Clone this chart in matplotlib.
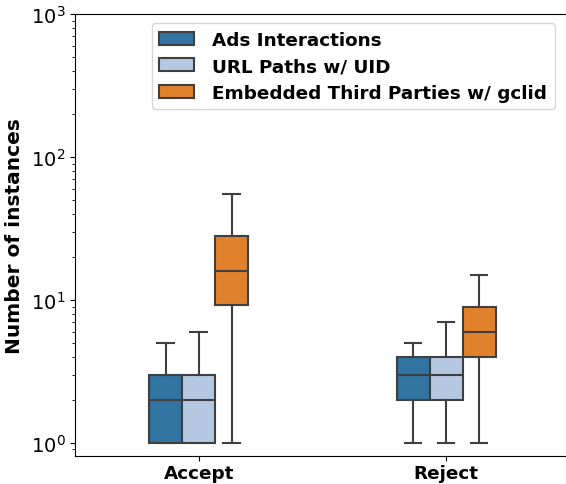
import colorsys

import matplotlib
matplotlib.use("Agg")
import matplotlib.pyplot as plt
from matplotlib.colors import to_rgb
from matplotlib.patches import Patch

# data (box statistics per group and series)
categories = ["Accept", "Reject"]
series = ["Ads Interactions", "URL Paths w/ UID", "Embedded Third Parties w/ gclid"]

# [Accept, Reject]
whislo = [[1, 1], [1, 1], [1, 1]]
q1 = [[1, 2], [1, 2], [9.2, 4]]
med = [[2, 3], [2, 3], [16, 6]]
q3 = [[3, 4], [3, 4], [28, 9]]
whishi = [[5, 5], [6, 7], [55, 15]]


def desat(c, prop=0.75):
    h, l, s = colorsys.rgb_to_hls(*to_rgb(c))
    return colorsys.hls_to_rgb(h, l, s * prop)


colors = [desat("#1f77b4"), desat("#aec7e8"), desat("#ff7f0e")]
LINE = "#3f3f3f"

fig = plt.figure(figsize=(5.66, 4.85), dpi=100)
ax = fig.add_axes([0.1325, 0.0577, 0.8745, 0.9113])

width = 0.4
n = len(series)
each = width / n
for i, name in enumerate(series):
    stats = []
    for j in range(len(categories)):
        stats.append({
            "whislo": whislo[i][j], "q1": q1[i][j], "med": med[i][j],
            "q3": q3[i][j], "whishi": whishi[i][j], "fliers": [],
        })
    pos = [j - width / 2 + each * (i + 0.5) for j in range(len(categories))]
    ax.bxp(
        stats, positions=pos, widths=each, patch_artist=True,
        showfliers=False, manage_ticks=False,
        boxprops=dict(facecolor=colors[i], edgecolor=LINE, linewidth=1.5),
        medianprops=dict(color=LINE, linewidth=1.5),
        whiskerprops=dict(color=LINE, linewidth=1.5),
        capprops=dict(color=LINE, linewidth=1.5),
        capwidths=each * 0.5,
    )

ax.set_yscale("log")
ax.set_ylim(0.81, 1000)
ax.set_xlim(-0.5, 1.5)
ax.set_xticks(range(len(categories)))
ax.set_xticklabels(categories, fontsize=13.2, fontweight="bold")
ax.tick_params(axis="x", pad=2.5)
ax.tick_params(axis="y", labelsize=14)
ax.set_ylabel("Number of instances", fontsize=14.5, fontweight="bold", labelpad=5)

handles = [Patch(facecolor=colors[i], edgecolor=LINE, linewidth=1.5, label=series[i]) for i in range(n)]
ax.legend(handles=handles, loc="upper center", bbox_to_anchor=(0.562, 1.0),
          prop={"weight": "bold", "size": 13.2}, handlelength=1.9,
          handletextpad=1.0, labelspacing=0.47)

fig.savefig("out.png", dpi=100)
